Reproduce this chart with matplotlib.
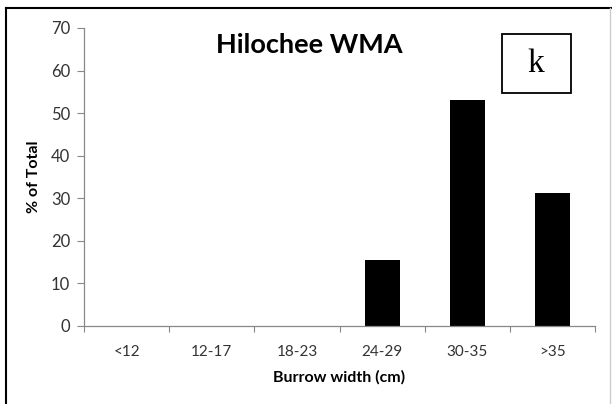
import matplotlib

matplotlib.use("Agg")
import matplotlib.pyplot as plt
from matplotlib.lines import Line2D
from matplotlib.patches import Rectangle

# burrow width classes and share of total (%), Hilochee WMA
categories = ["<12", "12-17", "18-23", "24-29", "30-35", ">35"]
percent = [0, 0, 0, 15.6, 53.2, 31.3]
yticks = [0, 10, 20, 30, 40, 50, 60, 70]

plt.rcParams["font.family"] = ["Lato", "DejaVu Sans"]

fig = plt.figure(figsize=(6.12, 4.04), dpi=100)
ax = fig.add_axes([84 / 612, 1 - 326 / 404, 511 / 612, 298 / 404])

x = list(range(len(categories)))
ax.bar(x, percent, width=0.41, color="black")

ax.set_xlim(-0.5, len(categories) - 0.5)
ax.set_ylim(0, 70)
ax.set_yticks(yticks)
ax.set_xticks(x)
ax.set_xticklabels(categories)
ax.tick_params(axis="x", length=0, pad=14, labelsize=11, colors="#333333")
ax.tick_params(axis="y", length=5, width=0.8, color="#888888", labelsize=12,
               labelcolor="#333333", pad=5)
# category boundary ticks on x axis
ax.set_xticks([i - 0.5 for i in range(len(categories) + 1)], minor=True)
ax.tick_params(axis="x", which="minor", length=4, width=0.8, color="#888888")

for side in ("top", "right"):
    ax.spines[side].set_visible(False)
for side in ("left", "bottom"):
    ax.spines[side].set_color("#888888")
    ax.spines[side].set_linewidth(0.9)

ax.set_xlabel("Burrow width (cm)", fontsize=11.5, fontweight="bold", labelpad=8)
ax.set_ylabel("% of Total", fontsize=11.5, fontweight="bold", labelpad=7)

fig.text(309 / 612, 1 - 45 / 404, "Hilochee WMA", ha="center", va="center",
         fontsize=19.5, fontweight="bold")

# panel letter box
fig.add_artist(Rectangle((502 / 612, 1 - 93 / 404), 69 / 612, 59 / 404,
                         transform=fig.transFigure, fc="white", ec="black", lw=1.3))
fig.text(536 / 612, 1 - 64 / 404, "k", ha="center", va="center", fontsize=24,
         family="Liberation Serif")

# outer frame
fig.add_artist(Line2D([6 / 612, 1], [1 - 8 / 404] * 2, color="black", lw=1.5,
                      transform=fig.transFigure))
fig.add_artist(Line2D([6 / 612] * 2, [0, 1 - 8 / 404], color="black", lw=1.5,
                      transform=fig.transFigure))
fig.add_artist(Line2D([610 / 612] * 2, [0, 1 - 8 / 404], color="#cccccc", lw=1,
                      transform=fig.transFigure))

fig.savefig("out.png", dpi=100)
